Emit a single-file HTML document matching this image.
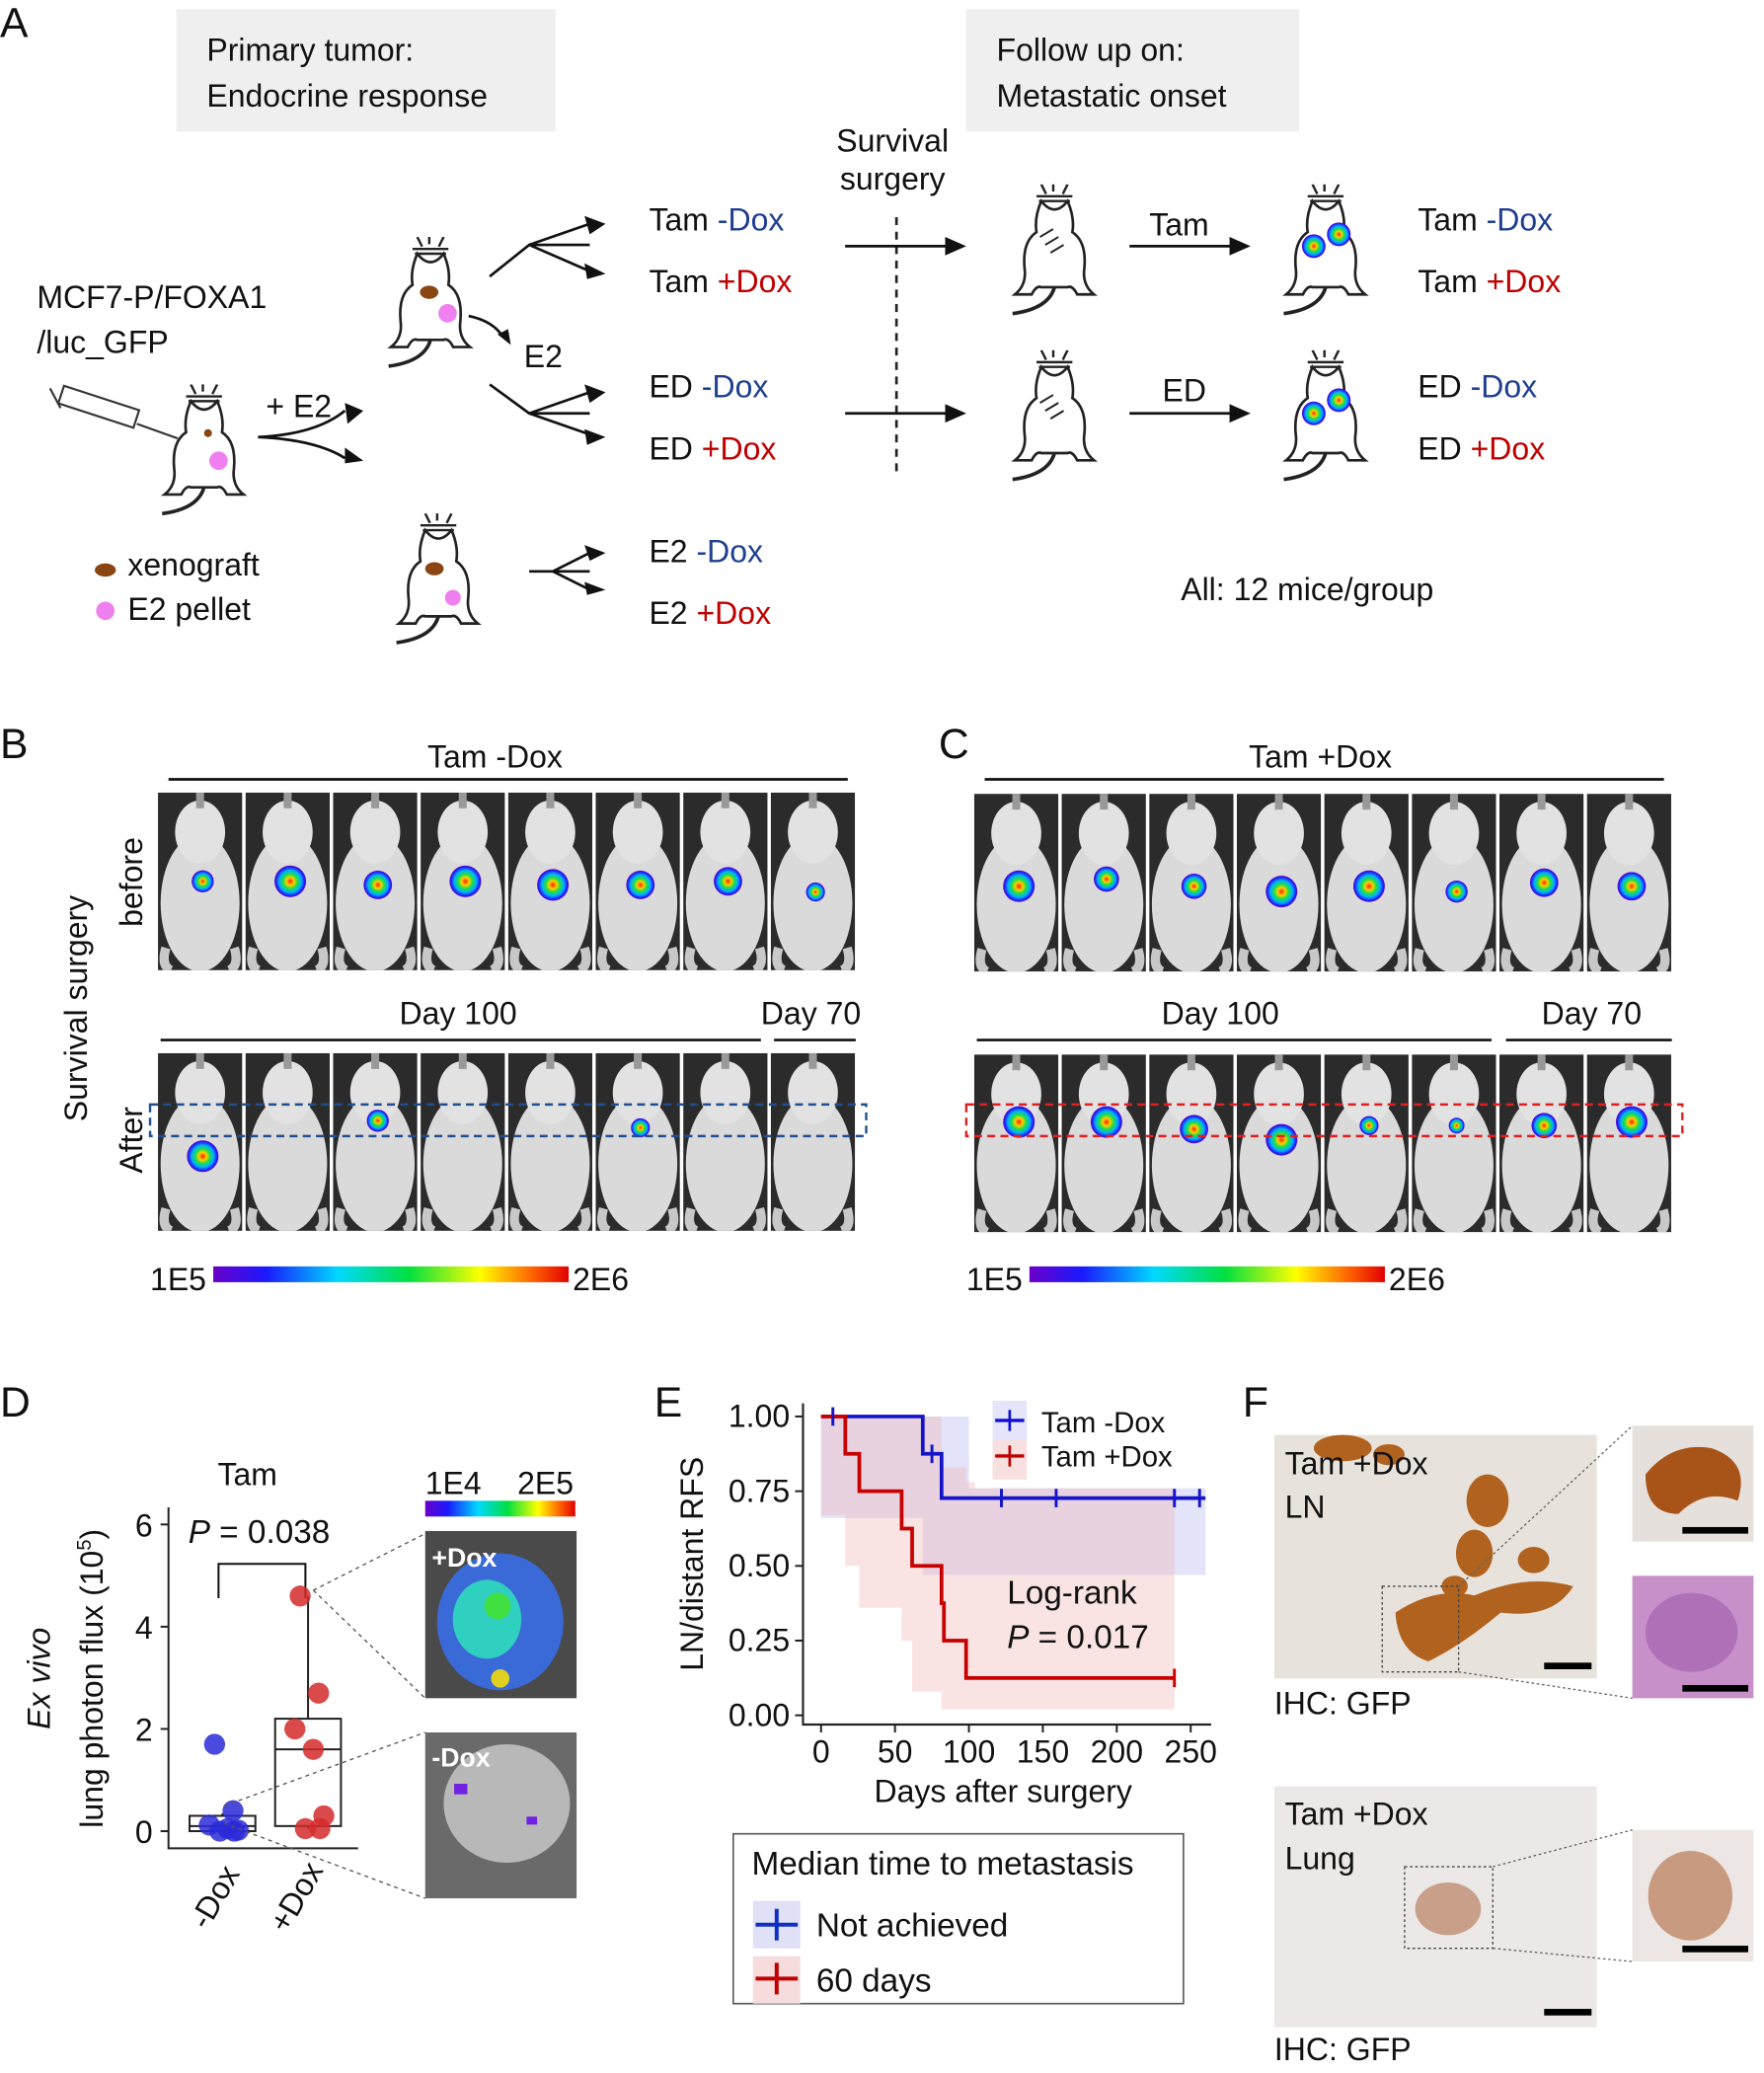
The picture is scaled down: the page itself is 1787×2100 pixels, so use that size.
<!DOCTYPE html>
<html><head><meta charset="utf-8"><style>
html,body{margin:0;padding:0;background:#fff}
svg{display:block}
text{font-family:"Liberation Sans","DejaVu Sans",sans-serif;fill:#111}
</style></head><body>
<svg id="fig" width="1787" height="2100" viewBox="0 0 1340 1574.7" xmlns="http://www.w3.org/2000/svg">
<defs>
<linearGradient id="lum" x1="0" x2="1" y1="0" y2="0">
<stop offset="0" stop-color="#6a00c8"/><stop offset="0.15" stop-color="#1a1aff"/><stop offset="0.35" stop-color="#00d8ff"/><stop offset="0.55" stop-color="#00e040"/><stop offset="0.75" stop-color="#ffff00"/><stop offset="0.9" stop-color="#ff6000"/><stop offset="1" stop-color="#e00000"/></linearGradient>
<radialGradient id="spot"><stop offset="0" stop-color="#ff2000"/><stop offset="0.25" stop-color="#ffd000"/><stop offset="0.45" stop-color="#20e040"/><stop offset="0.7" stop-color="#00b0ff"/><stop offset="0.9" stop-color="#2020ff"/><stop offset="1" stop-color="#6000c0"/></radialGradient>
<symbol id="mouse" viewBox="0 0 90 110">
<path d="M38 8 L34 0 M44 6 L44 -2 M52 8 L56 0 M30 10 L60 10 M32 14 L58 14" stroke="#222" stroke-width="2" fill="none"/>
<path d="M34 14 Q45 28 56 14 Q62 28 60 40 Q72 48 70 70 Q68 84 78 92 L64 92 Q60 84 56 86 L34 86 Q30 84 26 92 L12 92 Q22 84 20 70 Q18 48 30 40 Q28 28 34 14 Z" fill="#fff" stroke="#222" stroke-width="2.2"/>
<path d="M45 86 Q40 104 10 108" stroke="#222" stroke-width="3" fill="none"/>
</symbol>
<symbol id="lmouse" viewBox="0 0 64 135">
<rect width="64" height="135" fill="#2b2b2b"/>
<ellipse cx="32" cy="84" rx="30" ry="52" fill="#dadada"/>
<ellipse cx="32" cy="30" rx="19" ry="24" fill="#e2e2e2"/>
<rect x="29" y="0" width="6" height="12" fill="#999"/>
<path d="M6 118 Q2 132 10 135 M58 118 Q62 132 54 135" stroke="#c8c8c8" stroke-width="7" fill="none"/>
</symbol>
</defs>

<g>
<text x="0" y="28" font-size="32">A</text>
<rect x="134" y="7" width="288" height="93" fill="#efefef"/>
<text x="157" y="46" font-size="24">Primary tumor:</text>
<text x="157" y="81" font-size="24">Endocrine response</text>
<rect x="734" y="7" width="253" height="93" fill="#efefef"/>
<text x="757" y="46" font-size="24">Follow up on:</text>
<text x="757" y="81" font-size="24">Metastatic onset</text>
<text x="678" y="115" font-size="24" text-anchor="middle">Survival</text>
<text x="678" y="144" font-size="24" text-anchor="middle">surgery</text>
<line x1="681" y1="165" x2="681" y2="360" stroke="#222" stroke-width="2" stroke-dasharray="6,5"/>
<text x="28" y="234" font-size="24">MCF7-P/FOXA1</text>
<text x="28" y="268" font-size="24">/luc_GFP</text>
<g stroke="#333" stroke-width="1.6" fill="none"><rect x="45" y="302" width="60" height="14" transform="rotate(18 75 309)"/><line x1="104" y1="322" x2="135" y2="333"/><line x1="38" y1="295" x2="46" y2="310"/></g>
<use href="#mouse" x="110" y="292" width="90" height="100"/>
<ellipse cx="158" cy="329" rx="3" ry="3" fill="#8b4513"/><circle cx="166" cy="350" r="7" fill="#f080f0"/>
<text x="202" y="317" font-size="24">+ E2</text>
<path d="M196 332 Q240 330 262 312 M196 332 Q240 334 262 348" stroke="#111" stroke-width="2" fill="none"/>
<path d="M262 306 L276 312 L264 322Z M262 340 L276 350 L262 352Z" fill="#111"/>
<ellipse cx="80" cy="433" rx="8" ry="5" fill="#8b4513"/><text x="97" y="437" font-size="24">xenograft</text>
<circle cx="80" cy="464" r="7" fill="#f080f0"/><text x="97" y="471" font-size="24">E2 pellet</text>
<use href="#mouse" x="282" y="180" width="90" height="100"/>
<ellipse cx="326" cy="222" rx="7" ry="5" fill="#8b4513"/><circle cx="340" cy="238" r="7" fill="#f080f0"/>
<path d="M356 240 Q375 244 382 256" stroke="#111" stroke-width="2" fill="none"/><path d="M378 254 L388 262 L386 250Z" fill="#111"/>
<text x="398" y="279" font-size="24">E2</text>
<use href="#mouse" x="288" y="390" width="90" height="100"/>
<ellipse cx="330" cy="432" rx="7" ry="5" fill="#8b4513"/><circle cx="344" cy="454" r="6" fill="#f080f0"/>
<g stroke="#111" stroke-width="2" fill="none">
<path d="M372 210 L402 186 L448 186 M402 186 L448 206 M402 186 L448 170"/>
<path d="M372 292 L402 314 L448 314 M402 314 L448 298 M402 314 L448 330"/>
<path d="M402 434 L448 434 M420 434 L448 420 M420 434 L448 448"/>
<path d="M642 187 L720 187 M642 314 L720 314 M858 187 L936 187 M858 314 L936 314"/>
</g>
<g fill="#111"><path d="M444 164 L460 170 L448 178Z M444 200 L460 208 L446 212Z M444 292 L460 298 L448 306Z M444 326 L460 332 L446 338Z M444 414 L460 420 L448 426Z M444 442 L460 448 L446 452Z"/>
<path d="M718 180 L734 187 L718 194Z M718 307 L734 314 L718 321Z M934 180 L950 187 L934 194Z M934 307 L950 314 L934 321Z"/></g>
<text x="493" y="175" font-size="24">Tam <tspan fill="#1f3f8f">-Dox</tspan></text>
<text x="493" y="222" font-size="24">Tam <tspan fill="#c00000">+Dox</tspan></text>
<text x="493" y="302" font-size="24">ED <tspan fill="#1f3f8f">-Dox</tspan></text>
<text x="493" y="349" font-size="24">ED <tspan fill="#c00000">+Dox</tspan></text>
<text x="493" y="427" font-size="24">E2 <tspan fill="#1f3f8f">-Dox</tspan></text>
<text x="493" y="474" font-size="24">E2 <tspan fill="#c00000">+Dox</tspan></text>
<text x="873" y="179" font-size="24">Tam</text>
<text x="883" y="305" font-size="24">ED</text>
<use href="#mouse" x="756" y="140" width="90" height="100"/>
<use href="#mouse" x="756" y="266" width="90" height="100"/>
<use href="#mouse" x="962" y="140" width="90" height="100"/>
<use href="#mouse" x="962" y="266" width="90" height="100"/>
<path d="M790 180 l10 -6 M794 186 l10 -6 M798 192 l10 -6 M790 306 l10 -6 M794 312 l10 -6 M798 318 l10 -6" stroke="#222" stroke-width="1.5"/>
<circle cx="998" cy="187" r="9" fill="url(#spot)"/><circle cx="1017" cy="178" r="9" fill="url(#spot)"/>
<circle cx="998" cy="314" r="9" fill="url(#spot)"/><circle cx="1017" cy="304" r="9" fill="url(#spot)"/>
<text x="1077" y="175" font-size="24">Tam <tspan fill="#1f3f8f">-Dox</tspan></text>
<text x="1077" y="222" font-size="24">Tam <tspan fill="#c00000">+Dox</tspan></text>
<text x="1077" y="302" font-size="24">ED <tspan fill="#1f3f8f">-Dox</tspan></text>
<text x="1077" y="349" font-size="24">ED <tspan fill="#c00000">+Dox</tspan></text>
<text x="897" y="456" font-size="24">All: 12 mice/group</text>
</g>

<g>
<text x="0" y="576" font-size="32">B</text>
<text x="376" y="583" font-size="24" text-anchor="middle">Tam -Dox</text>
<line x1="128" y1="592" x2="644" y2="592" stroke="#111" stroke-width="2"/>
<text x="348" y="778" font-size="24" text-anchor="middle">Day 100</text>
<text x="616" y="778" font-size="24" text-anchor="middle">Day 70</text>
<line x1="122" y1="790" x2="578" y2="790" stroke="#111" stroke-width="2"/>
<line x1="588" y1="790" x2="650" y2="790" stroke="#111" stroke-width="2"/>
<text transform="translate(108,670) rotate(-90)" font-size="24" text-anchor="middle">before</text>
<text transform="translate(108,866) rotate(-90)" font-size="24" text-anchor="middle">After</text>
<text transform="translate(66,766) rotate(-90)" font-size="24" text-anchor="middle">Survival surgery</text>
<g id="rowB1"></g><g id="rowB2"></g>
<rect x="114" y="839" width="544" height="24" fill="none" stroke="#1f4f8f" stroke-width="1.8" stroke-dasharray="6,4"/>
<text x="114" y="980" font-size="24">1E5</text>
<rect x="162" y="962" width="270" height="12" fill="url(#lum)"/>
<text x="435" y="980" font-size="24">2E6</text>
</g>
<g>
<text x="713" y="576" font-size="32">C</text>
<text x="1003" y="583" font-size="24" text-anchor="middle">Tam +Dox</text>
<line x1="748" y1="592" x2="1264" y2="592" stroke="#111" stroke-width="2"/>
<text x="927" y="778" font-size="24" text-anchor="middle">Day 100</text>
<text x="1209" y="778" font-size="24" text-anchor="middle">Day 70</text>
<line x1="742" y1="790" x2="1133" y2="790" stroke="#111" stroke-width="2"/>
<line x1="1144" y1="790" x2="1270" y2="790" stroke="#111" stroke-width="2"/>
<g id="rowC1"></g><g id="rowC2"></g>
<rect x="734" y="839" width="544" height="24" fill="none" stroke="#e02020" stroke-width="1.8" stroke-dasharray="6,4"/>
<text x="734" y="980" font-size="24">1E5</text>
<rect x="782" y="962" width="270" height="12" fill="url(#lum)"/>
<text x="1055" y="980" font-size="24">2E6</text>
</g>

<g>
<text x="0" y="1076" font-size="32">D</text>
<text x="188" y="1128" font-size="24" text-anchor="middle">Tam</text>
<text x="143" y="1172" font-size="25"><tspan font-style="italic">P</tspan> = 0.038</text>
<path d="M166 1214 V1188 H232 V1214" stroke="#111" stroke-width="1.5" fill="none"/>
<text transform="translate(38,1275) rotate(-90)" font-size="24" text-anchor="middle" font-style="italic">Ex vivo</text>
<text transform="translate(78,1275) rotate(-90)" font-size="24" text-anchor="middle">lung photon flux (10<tspan font-size="15" dy="-9">5</tspan><tspan dy="9">)</tspan></text>
<g id="boxplot"></g>
<text transform="translate(170,1445) rotate(-60)" font-size="24" text-anchor="middle">-Dox</text>
<text transform="translate(232,1445) rotate(-60)" font-size="24" text-anchor="middle">+Dox</text>
<text x="323" y="1135" font-size="24">1E4</text><text x="393" y="1135" font-size="24">2E5</text>
<rect x="323" y="1140" width="114" height="12" fill="url(#lum)"/>
<rect x="323" y="1163" width="115" height="127" fill="#4a4a4a"/>
<ellipse cx="380" cy="1232" rx="48" ry="52" fill="#3a6ad8"/>
<ellipse cx="370" cy="1230" rx="26" ry="30" fill="#30d0c0"/>
<circle cx="378" cy="1220" r="10" fill="#40e040"/><circle cx="380" cy="1275" r="7" fill="#e0d020"/>
<text x="328" y="1190" font-size="20" font-weight="bold" style="fill:#fff">+Dox</text>
<rect x="323" y="1316" width="115" height="126" fill="#6a6a6a"/>
<ellipse cx="385" cy="1370" rx="48" ry="45" fill="#b8b8b8"/>
<rect x="345" y="1355" width="10" height="8" fill="#7020e0"/><rect x="400" y="1380" width="8" height="6" fill="#7020e0"/>
<text x="328" y="1342" font-size="20" font-weight="bold" style="fill:#fff">-Dox</text>
<g stroke="#555" stroke-width="1" stroke-dasharray="3,3">
<line x1="238" y1="1208" x2="323" y2="1165"/><line x1="238" y1="1208" x2="323" y2="1290"/>
<line x1="170" y1="1372" x2="323" y2="1316"/><line x1="170" y1="1385" x2="323" y2="1442"/></g>
</g>

<g>
<text x="497" y="1076" font-size="32">E</text>
<text transform="translate(534,1188) rotate(-90)" font-size="24" text-anchor="middle">LN/distant RFS</text>
<g id="km"></g>
<text x="762" y="1369" font-size="24" text-anchor="middle">Days after surgery</text>
<rect x="754" y="1064" width="26" height="30" fill="#e4e4fa"/>
<rect x="754" y="1094" width="26" height="30" fill="#f8e0e0"/>
<line x1="756" y1="1079" x2="778" y2="1079" stroke="#1010d0" stroke-width="2.5"/><line x1="767" y1="1071" x2="767" y2="1087" stroke="#1010d0" stroke-width="2"/>
<line x1="756" y1="1106" x2="778" y2="1106" stroke="#c00000" stroke-width="2.5"/><line x1="767" y1="1098" x2="767" y2="1114" stroke="#c00000" stroke-width="2"/>
<text x="791" y="1088" font-size="22">Tam -Dox</text>
<text x="791" y="1114" font-size="22">Tam +Dox</text>
<text x="765" y="1218" font-size="25">Log-rank</text>
<text x="765" y="1252" font-size="25"><tspan font-style="italic">P</tspan> = 0.017</text>
<rect x="557" y="1393" width="342" height="129" fill="none" stroke="#555" stroke-width="1.2"/>
<text x="571" y="1424" font-size="25">Median time to metastasis</text>
<rect x="572" y="1444" width="36" height="36" fill="#e0e0f6"/>
<line x1="574" y1="1462" x2="606" y2="1462" stroke="#1030c0" stroke-width="3"/><line x1="590" y1="1450" x2="590" y2="1474" stroke="#1030c0" stroke-width="3"/>
<text x="620" y="1471" font-size="25">Not achieved</text>
<rect x="572" y="1486" width="36" height="36" fill="#f6dcdc"/>
<line x1="574" y1="1503" x2="606" y2="1503" stroke="#c00000" stroke-width="3"/><line x1="590" y1="1491" x2="590" y2="1515" stroke="#c00000" stroke-width="3"/>
<text x="620" y="1513" font-size="25">60 days</text>
</g>

<g>
<text x="944" y="1076" font-size="32">F</text>
<rect x="968" y="1090" width="245" height="185" fill="#e8e2dc"/>
<g fill="#b0621e">
<path d="M1060 1225 Q1090 1205 1120 1212 Q1160 1195 1195 1205 Q1180 1230 1140 1225 Q1110 1250 1085 1262 Q1062 1255 1060 1225Z"/>
<ellipse cx="1120" cy="1180" rx="14" ry="18"/><ellipse cx="1130" cy="1140" rx="16" ry="20"/><ellipse cx="1020" cy="1100" rx="22" ry="10"/>
<ellipse cx="1055" cy="1105" rx="12" ry="8"/><ellipse cx="1165" cy="1185" rx="12" ry="10"/><ellipse cx="1105" cy="1205" rx="10" ry="8"/></g>
<rect x="1050" y="1205" width="58" height="65" fill="none" stroke="#444" stroke-width="1" stroke-dasharray="2,2"/>
<rect x="1173" y="1263" width="36" height="5" fill="#000"/>
<text x="976" y="1120" font-size="24">Tam +Dox</text><text x="976" y="1153" font-size="24">LN</text>
<text x="968" y="1302" font-size="24">IHC: GFP</text>
<rect x="1240" y="1083" width="92" height="88" fill="#e6e0dc"/>
<path d="M1250 1120 Q1270 1095 1300 1100 Q1330 1110 1320 1140 Q1295 1130 1275 1150 Q1250 1150 1250 1120Z" fill="#a85418"/>
<rect x="1278" y="1160" width="50" height="5" fill="#000"/>
<rect x="1240" y="1197" width="92" height="93" fill="#c890c8"/>
<ellipse cx="1285" cy="1240" rx="35" ry="30" fill="#b070b8"/>
<rect x="1278" y="1280" width="50" height="5" fill="#000"/>
<g stroke="#666" stroke-width="1" stroke-dasharray="2,2"><line x1="1108" y1="1205" x2="1240" y2="1083"/><line x1="1108" y1="1270" x2="1240" y2="1290"/></g>
<rect x="968" y="1357" width="245" height="183" fill="#ece8e8"/>
<ellipse cx="1100" cy="1450" rx="25" ry="20" fill="#c8a08a"/>
<rect x="1067" y="1418" width="67" height="62" fill="none" stroke="#444" stroke-width="1" stroke-dasharray="2,2"/>
<rect x="1173" y="1526" width="36" height="5" fill="#000"/>
<text x="976" y="1386" font-size="24">Tam +Dox</text><text x="976" y="1420" font-size="24">Lung</text>
<text x="968" y="1565" font-size="24">IHC: GFP</text>
<rect x="1240" y="1390" width="92" height="100" fill="#ece6e4"/>
<ellipse cx="1284" cy="1440" rx="32" ry="34" fill="#c89a80"/>
<rect x="1278" y="1478" width="50" height="5" fill="#000"/>
<g stroke="#666" stroke-width="1" stroke-dasharray="2,2"><line x1="1134" y1="1418" x2="1240" y2="1390"/><line x1="1134" y1="1480" x2="1240" y2="1490"/></g>
</g>
</svg>
<script>
const kmMinusTimes = [0, 68.8, 81.5, 260];
const kmMinusSurv  = [1.0, 0.875, 0.727, 0.727];
const kmMinusCensor = [8, 75, 122, 159, 239, 256];
const kmPlusTimes = [0, 16.4, 25.9, 54.5, 61.6, 81.5, 83.1, 98.1, 239];
const kmPlusSurv  = [1.0, 0.875, 0.75, 0.625, 0.5, 0.375, 0.25, 0.125, 0.125];
const kmPlusCensor = [239];
const bandMinusTimes = [0, 68.8, 81.5, 100, 260];
const bandMinusUpper = [1.0, 1.0, 1.0, 0.76, 0.76];
const bandMinusLower = [1.0, 0.66, 0.47, 0.47, 0.47];
const bandPlusTimes = [0, 16.4, 25.9, 54.5, 61.6, 81.5, 98.1, 104, 239];
const bandPlusUpper = [1.0, 1.0, 1.0, 1.0, 1.0, 0.83, 0.78, 0.76, 0.76];
const bandPlusLower = [1.0, 0.67, 0.5, 0.36, 0.25, 0.08, 0.02, 0.02, 0.02];
const kmXTicks = [0, 50, 100, 150, 200, 250];
const kmYTicks = [0, 0.25, 0.5, 0.75, 1.0];
const kmYLabels = ["0.00", "0.25", "0.50", "0.75", "1.00"];
const boxGroups = ["-Dox", "+Dox"];
const minusDoxPoints = [1.7, 0.4, 0.12, 0.05, 0.02, 0.0, 0.0];
const plusDoxPoints = [4.6, 2.7, 2.0, 1.6, 0.3, 0.05, 0.05];
const boxStatsMinus = [0, 0, 0.1, 0.3, 0.35];
const boxStatsPlus = [0.05, 0.1, 1.6, 2.2, 4.6];
const boxYTicks = [0, 2, 4, 6];
const bBeforeY = [0.5, 0.5, 0.52, 0.5, 0.52, 0.52, 0.5, 0.56];
const bBeforeSize = [0.7, 1.0, 0.9, 1.0, 1.0, 0.9, 0.9, 0.6];
const bAfterY = [0.58, 0, 0.38, 0, 0, 0.42, 0, 0];
const bAfterSize = [1.0, 0, 0.7, 0, 0, 0.6, 0, 0];
const cBeforeY = [0.52, 0.48, 0.52, 0.55, 0.52, 0.55, 0.5, 0.52];
const cBeforeSize = [1.0, 0.8, 0.8, 1.0, 1.0, 0.7, 0.9, 0.9];
const cAfterY = [0.38, 0.38, 0.42, 0.48, 0.4, 0.4, 0.4, 0.38];
const cAfterSize = [1.0, 1.0, 0.9, 1.0, 0.6, 0.5, 0.8, 1.0];

const NS = "http://www.w3.org/2000/svg";
function mk(tag, attrs, parent) {
  const e = document.createElementNS(NS, tag);
  for (const k in attrs) e.setAttribute(k, attrs[k]);
  parent.appendChild(e);
  return e;
}
const km = document.getElementById('km');
const kx = d => 623.7 + d * 1.1232;
const ky = s => 1303 - s * 227;
function stepPath(ts, ss) {
  let d = `M${kx(ts[0])},${ky(ss[0])}`;
  for (let i = 1; i < ts.length; i++) d += ` H${kx(ts[i])} V${ky(ss[i])}`;
  return d;
}
function bandPath(ts, up, lo) {
  let d = `M${kx(ts[0])},${ky(up[0])}`;
  for (let i = 1; i < ts.length; i++) d += ` H${kx(ts[i])} V${ky(up[i])}`;
  for (let i = ts.length - 1; i >= 0; i--) { d += ` V${ky(lo[i])} H${kx(i > 0 ? ts[i - 1] : ts[0])}`; }
  return d + 'Z';
}
const bm = mk('path', {d: bandPath(bandMinusTimes, bandMinusUpper, bandMinusLower), fill: '#c8c8f4', 'fill-opacity': 0.5}, km);


const bp = mk('path', {d: bandPath(bandPlusTimes, bandPlusUpper, bandPlusLower), fill: '#f0b8b8', 'fill-opacity': 0.4}, km);


mk('path', {d: `M610,1066 V1310 H920`, stroke: '#222', 'stroke-width': 1.6, fill: 'none'}, km);
kmXTicks.forEach(t => {
  mk('line', {x1: kx(t), x2: kx(t), y1: 1310, y2: 1316, stroke: '#222', 'stroke-width': 1.5}, km);
  const tx = mk('text', {x: kx(t), y: 1339, 'font-size': 24, 'text-anchor': 'middle'}, km);
  tx.textContent = t;
  
  
});
kmYTicks.forEach((t, i) => {
  mk('line', {x1: 604, x2: 610, y1: ky(t), y2: ky(t), stroke: '#222', 'stroke-width': 1.5}, km);
  const tx = mk('text', {x: 600, y: ky(t) + 8, 'font-size': 24, 'text-anchor': 'end'}, km);
  tx.textContent = kmYLabels[i];
  
  
});
const lm = mk('path', {d: stepPath(kmMinusTimes, kmMinusSurv), stroke: '#1414c8', 'stroke-width': 2.8, fill: 'none'}, km);


const lp = mk('path', {d: stepPath(kmPlusTimes, kmPlusSurv), stroke: '#c80000', 'stroke-width': 2.8, fill: 'none'}, km);


function survAt(ts, ss, d) { let s = ss[0]; for (let i = 0; i < ts.length; i++) if (ts[i] <= d) s = ss[i]; return s; }
kmMinusCensor.forEach(d => {
  const c = mk('path', {d: `M${kx(d)},${ky(survAt(kmMinusTimes, kmMinusSurv, d)) - 7} v14`, stroke: '#1414c8', 'stroke-width': 2.2}, km);
  
  
});
kmPlusCensor.forEach(d => {
  const c = mk('path', {d: `M${kx(d)},${ky(survAt(kmPlusTimes, kmPlusSurv, d)) - 7} v14`, stroke: '#c80000', 'stroke-width': 2.2}, km);
  
  
});
const bx = document.getElementById('boxplot');
const by = v => 1391 - v * 38.83;
const bcx = [169, 234];
mk('path', {d: 'M128,1145 V1404 H272', stroke: '#222', 'stroke-width': 1.5, fill: 'none'}, bx);
boxYTicks.forEach(t => {
  mk('line', {x1: 122, x2: 128, y1: by(t), y2: by(t), stroke: '#222', 'stroke-width': 1.5}, bx);
  const tx = mk('text', {x: 116, y: by(t) + 9, 'font-size': 24, 'text-anchor': 'end'}, bx);
  tx.textContent = t;
  
  
});
[boxStatsMinus, boxStatsPlus].forEach((st, g) => {
  const c = bcx[g];
  mk('line', {x1: c, x2: c, y1: by(st[4]), y2: by(st[3]), stroke: '#222', 'stroke-width': 1.5}, bx);
  mk('line', {x1: c, x2: c, y1: by(st[1]), y2: by(st[0]), stroke: '#222', 'stroke-width': 1.5}, bx);
  const r = mk('rect', {x: c - 25, y: by(st[3]), width: 50, height: by(st[1]) - by(st[3]), fill: 'none', stroke: '#222', 'stroke-width': 1.5}, bx);
  
  
  mk('line', {x1: c - 25, x2: c + 25, y1: by(st[2]), y2: by(st[2]), stroke: '#222', 'stroke-width': 1.5}, bx);
});
const jit = [-6, 8, -10, 4, 12, -2, 9];
[minusDoxPoints, plusDoxPoints].forEach((pts, g) => {
  pts.forEach((v, i) => {
    const p = mk('circle', {cx: bcx[g] + jit[i], cy: by(v), r: 8, fill: g ? '#d42a2a' : '#2a2ad8', 'fill-opacity': 0.85}, bx);
    
    
  });
});
function row(id, x0, y0, ys, sizes) {
  const g = document.getElementById(id);
  ys.forEach((yy, i) => {
    const px = x0 + i * 66.5;
    const u = mk('use', {href: '#lmouse', x: px, y: y0, width: 64, height: 135}, g);
    
    
    if (sizes[i] > 0) {
      const s = mk('circle', {cx: px + 34, cy: y0 + yy * 135, r: 12 * sizes[i], fill: 'url(#spot)'}, g);
      
      
    }
  });
}
row('rowB1', 120, 602, bBeforeY, bBeforeSize);
row('rowB2', 120, 800, bAfterY, bAfterSize);
row('rowC1', 740, 603, cBeforeY, cBeforeSize);
row('rowC2', 740, 801, cAfterY, cAfterSize);
</script>
</body></html>
